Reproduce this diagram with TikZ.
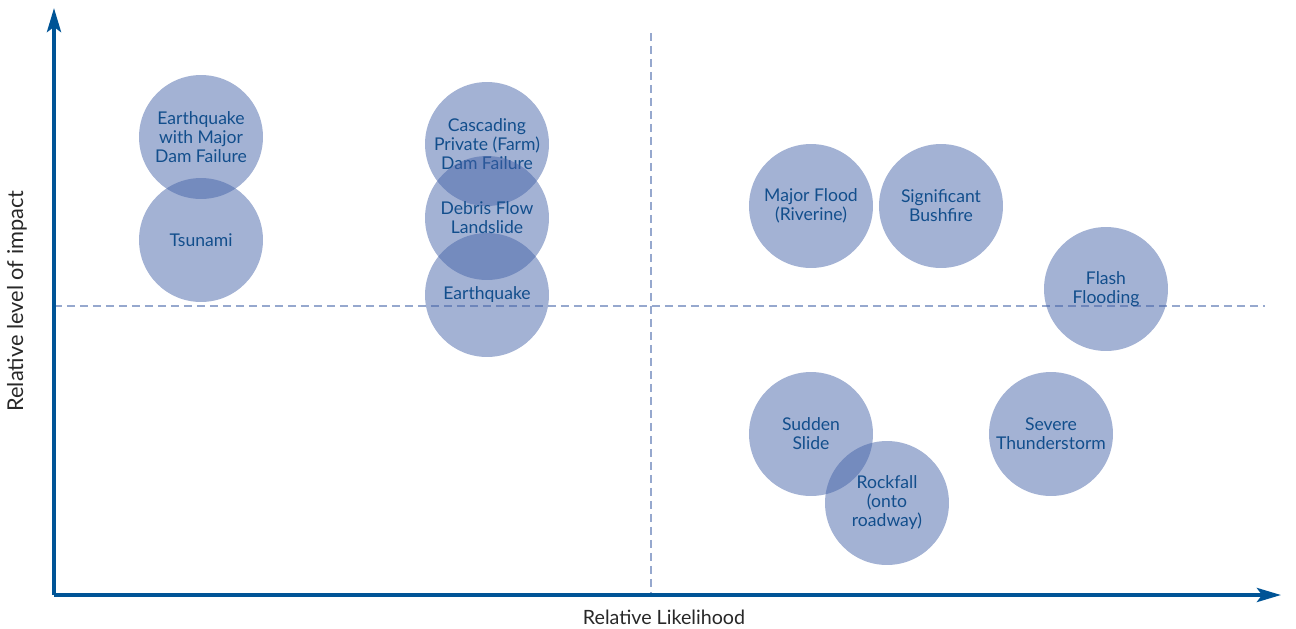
\documentclass[tikz,border=0pt]{standalone}
\usepackage{fontspec}
\setmainfont{Lato}
\usepackage{xcolor}
\usepackage{tikz}
\usetikzlibrary{arrows.meta, positioning}
\definecolor{axisblue}{RGB}{0,84,150}
\definecolor{hazardblue}{RGB}{67,98,167}
\definecolor{labelblue}{RGB}{18,78,140}
\definecolor{dashblue}{RGB}{150,168,206}
\definecolor{axisgray}{RGB}{40,40,40}
\tikzset{
    hazard/.style={circle, minimum size=2.48cm, inner sep=0pt, fill=hazardblue,
                   fill opacity=0.49, text opacity=1, text=labelblue, align=center,
                   font=\fontsize{10}{10.8}\selectfont},
    axisline/.style={line width=2.2pt, axisblue, -{Stealth[length=4.8mm, width=2.8mm, inset=1mm]}},
    quadline/.style={line width=1.1pt, dashblue, dash pattern=on 1.6mm off 1mm},
    axislabel/.style={text=axisgray, font=\fontsize{11.2}{13}\selectfont}
}

\begin{document}
\begin{tikzpicture}[x=0.02cm, y=-0.02cm]
    \useasboundingbox (0,0) rectangle (1296,629);

    % Quadrant lines
    \draw[quadline] (651,33) -- (651,593);
    \draw[quadline] (54,306) -- (1265,306);

    % Hazards
    \node[hazard] (eqdam) at (201,137) {Earthquake\\with Major\\Dam Failure};
    \node[hazard] (tsunami) at (201,240) {Tsunami};
    \node[hazard] (cascade) at (487,144) {Cascading\\Private (Farm)\\Dam Failure};
    \node[hazard] (debris) at (487,218) {Debris Flow\\Landslide};
    \node[hazard] (quake) at (487,295) {Earthquake};
    \node[hazard] (flood) at (811,206) {Major Flood\\(Riverine)};
    \node[hazard] (bushfire) at (941,206) {Significant\\Bushfire};
    \node[hazard] (flash) at (1106,289) {Flash\\Flooding};
    \node[hazard] (sudden) at (811,434) {Sudden\\Slide};
    \node[hazard] (storm) at (1051,434) {Severe\\Thunderstorm};
    \node[hazard] (rockfall) at (887,503) {Rockfall\\(onto\\roadway)};

    % Axes
    \coordinate (origin) at (54,595);
    \coordinate (xend) at (1281,595);
    \coordinate (yend) at (54,8);
    \draw[axisline] (origin) -- (xend);
    \draw[axisline] (origin) -- (yend);

    % Labels
    \node[axislabel] (xlabel) at (664,617) {Relative Likelihood};
    \node[axislabel, rotate=90, font=\fontsize{12.4}{14}\selectfont] (ylabel) at (17,301) {Relative level of impact};
\end{tikzpicture}
\end{document}
